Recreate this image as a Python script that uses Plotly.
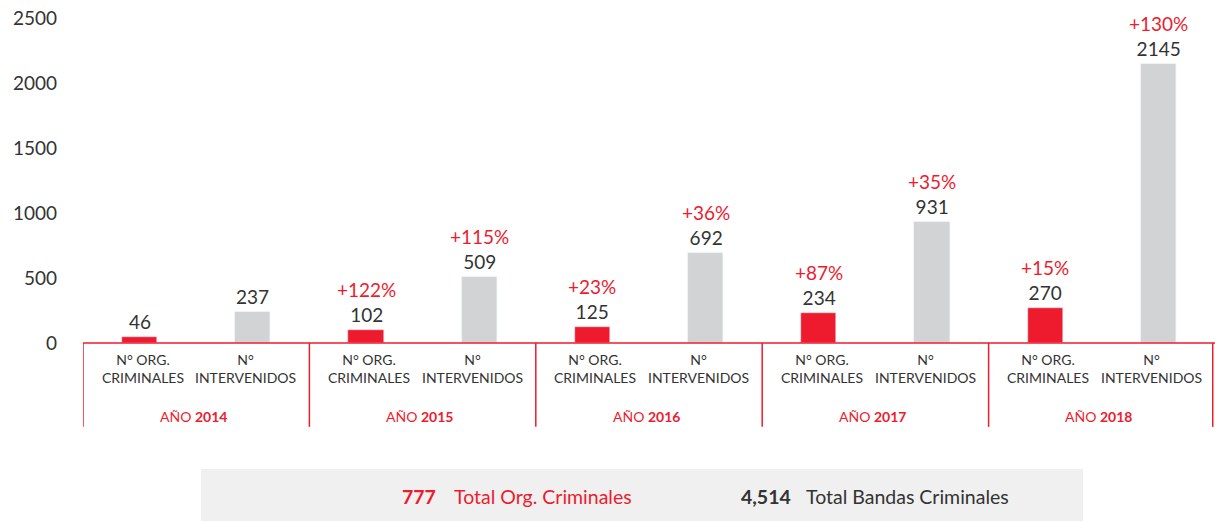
import plotly.graph_objects as go

years = ["2014", "2015", "2016", "2017", "2018"]
org_values = [46, 102, 125, 234, 270]
int_values = [237, 509, 692, 931, 2145]
org_pct = ["", "+122%", "+23%", "+87%", "+15%"]
int_pct = ["", "+115%", "+36%", "+35%", "+130%"]
org_label = "N° ORG.<br>CRIMINALES"
int_label = "N°<br>INTERVENIDOS"
y_ticks = [0, 500, 1000, 1500, 2000, 2500]
total_org = "777"
total_org_label = "Total Org. Criminales"
total_bandas = "4,514"
total_bandas_label = "Total Bandas Criminales"

RED = "#EE1B2E"
GRAY = "#D1D3D4"
DARK = "#333333"
FONT = "Lato"

org_x = [2 * i for i in range(len(years))]
int_x = [2 * i + 1 for i in range(len(years))]

fig = go.Figure()
fig.add_trace(go.Bar(x=org_x, y=org_values, marker_color=RED, width=0.31,
                     showlegend=False, hoverinfo="y"))
fig.add_trace(go.Bar(x=int_x, y=int_values, marker_color=GRAY, width=0.31,
                     showlegend=False, hoverinfo="y"))

ann = []
for xs, vals, pcts, lab, lshift in [(org_x, org_values, org_pct, org_label, 3),
                                    (int_x, int_values, int_pct, int_label, -7)]:
    for x, v, p in zip(xs, vals, pcts):
        txt = f"<span style='color:{RED}'>{p}</span><br>{v}" if p else str(v)
        ann.append(dict(x=x, y=v, xref="x", yref="y", text=txt, showarrow=False,
                        yanchor="bottom", yshift=2,
                        font=dict(family=FONT, size=19, color=DARK)))
        ann.append(dict(x=x, y=0, xref="x", yref="paper", text=lab, showarrow=False,
                        yanchor="top", yshift=-6, xshift=lshift,
                        font=dict(family=FONT, size=14, color=DARK)))

for i, yr in enumerate(years):
    ann.append(dict(x=2 * i + 0.5, y=0, xref="x", yref="paper",
                    text=f"AÑO <b>{yr}</b>", showarrow=False,
                    yanchor="middle", yshift=-73, xshift=-3,
                    font=dict(family=FONT, size=14, color=RED)))

shapes = []
# axis baseline
shapes.append(dict(type="line", xref="x", yref="paper", x0=-0.5, x1=len(years) * 2 - 0.5,
                   y0=0, y1=0, line=dict(color=RED, width=1.5), layer="above"))
for i in range(len(years) + 1):
    xv = min(2 * i - 0.5, len(years) * 2 - 0.52)
    shapes.append(dict(type="line", xref="x", yref="paper", x0=xv, x1=xv,
                       y0=0, y1=-0.258, line=dict(color=RED, width=1.5)))

# footer box
shapes.append(dict(type="rect", xref="paper", yref="paper", x0=0.1042, x1=0.8834,
                   y0=-0.5477, y1=-0.3877, fillcolor="#F0F0F0", line=dict(width=0),
                   layer="below"))

def px2paper(px):
    return (px - 83) / 1132

fy = -0.4708
ann += [
    dict(x=px2paper(400), y=fy, xref="paper", yref="paper", text=f"<b>{total_org}</b>",
         showarrow=False, xanchor="left", yanchor="middle",
         font=dict(family=FONT, size=19.5, color=RED)),
    dict(x=px2paper(452), y=fy, xref="paper", yref="paper", text=total_org_label,
         showarrow=False, xanchor="left", yanchor="middle",
         font=dict(family=FONT, size=19.5, color=RED)),
    dict(x=px2paper(739), y=fy, xref="paper", yref="paper", text=f"<b>{total_bandas}</b>",
         showarrow=False, xanchor="left", yanchor="middle",
         font=dict(family=FONT, size=19.5, color=DARK)),
    dict(x=px2paper(804), y=fy, xref="paper", yref="paper", text=total_bandas_label,
         showarrow=False, xanchor="left", yanchor="middle",
         font=dict(family=FONT, size=19.5, color=DARK)),
]

fig.update_layout(
    width=1215, height=522,
    margin=dict(l=83, r=0, t=18, b=179, autoexpand=False),
    paper_bgcolor="white", plot_bgcolor="white",
    bargap=0,
    xaxis=dict(range=[-0.5, len(years) * 2 - 0.5], showticklabels=False, showgrid=False,
               zeroline=False, showline=False, fixedrange=True, automargin=False),
    yaxis=dict(range=[0, 2500], tickvals=y_ticks, showgrid=False, zeroline=False,
               showline=False, ticklabelstandoff=25, automargin=False,
               tickfont=dict(family=FONT, size=19, color=DARK), fixedrange=True),
    annotations=ann,
    shapes=shapes,
    font=dict(family=FONT),
)

fig.write_html("out.html", config={"displayModeBar": False},
               post_script="document.body.style.margin='0';document.body.style.overflow='hidden';")
